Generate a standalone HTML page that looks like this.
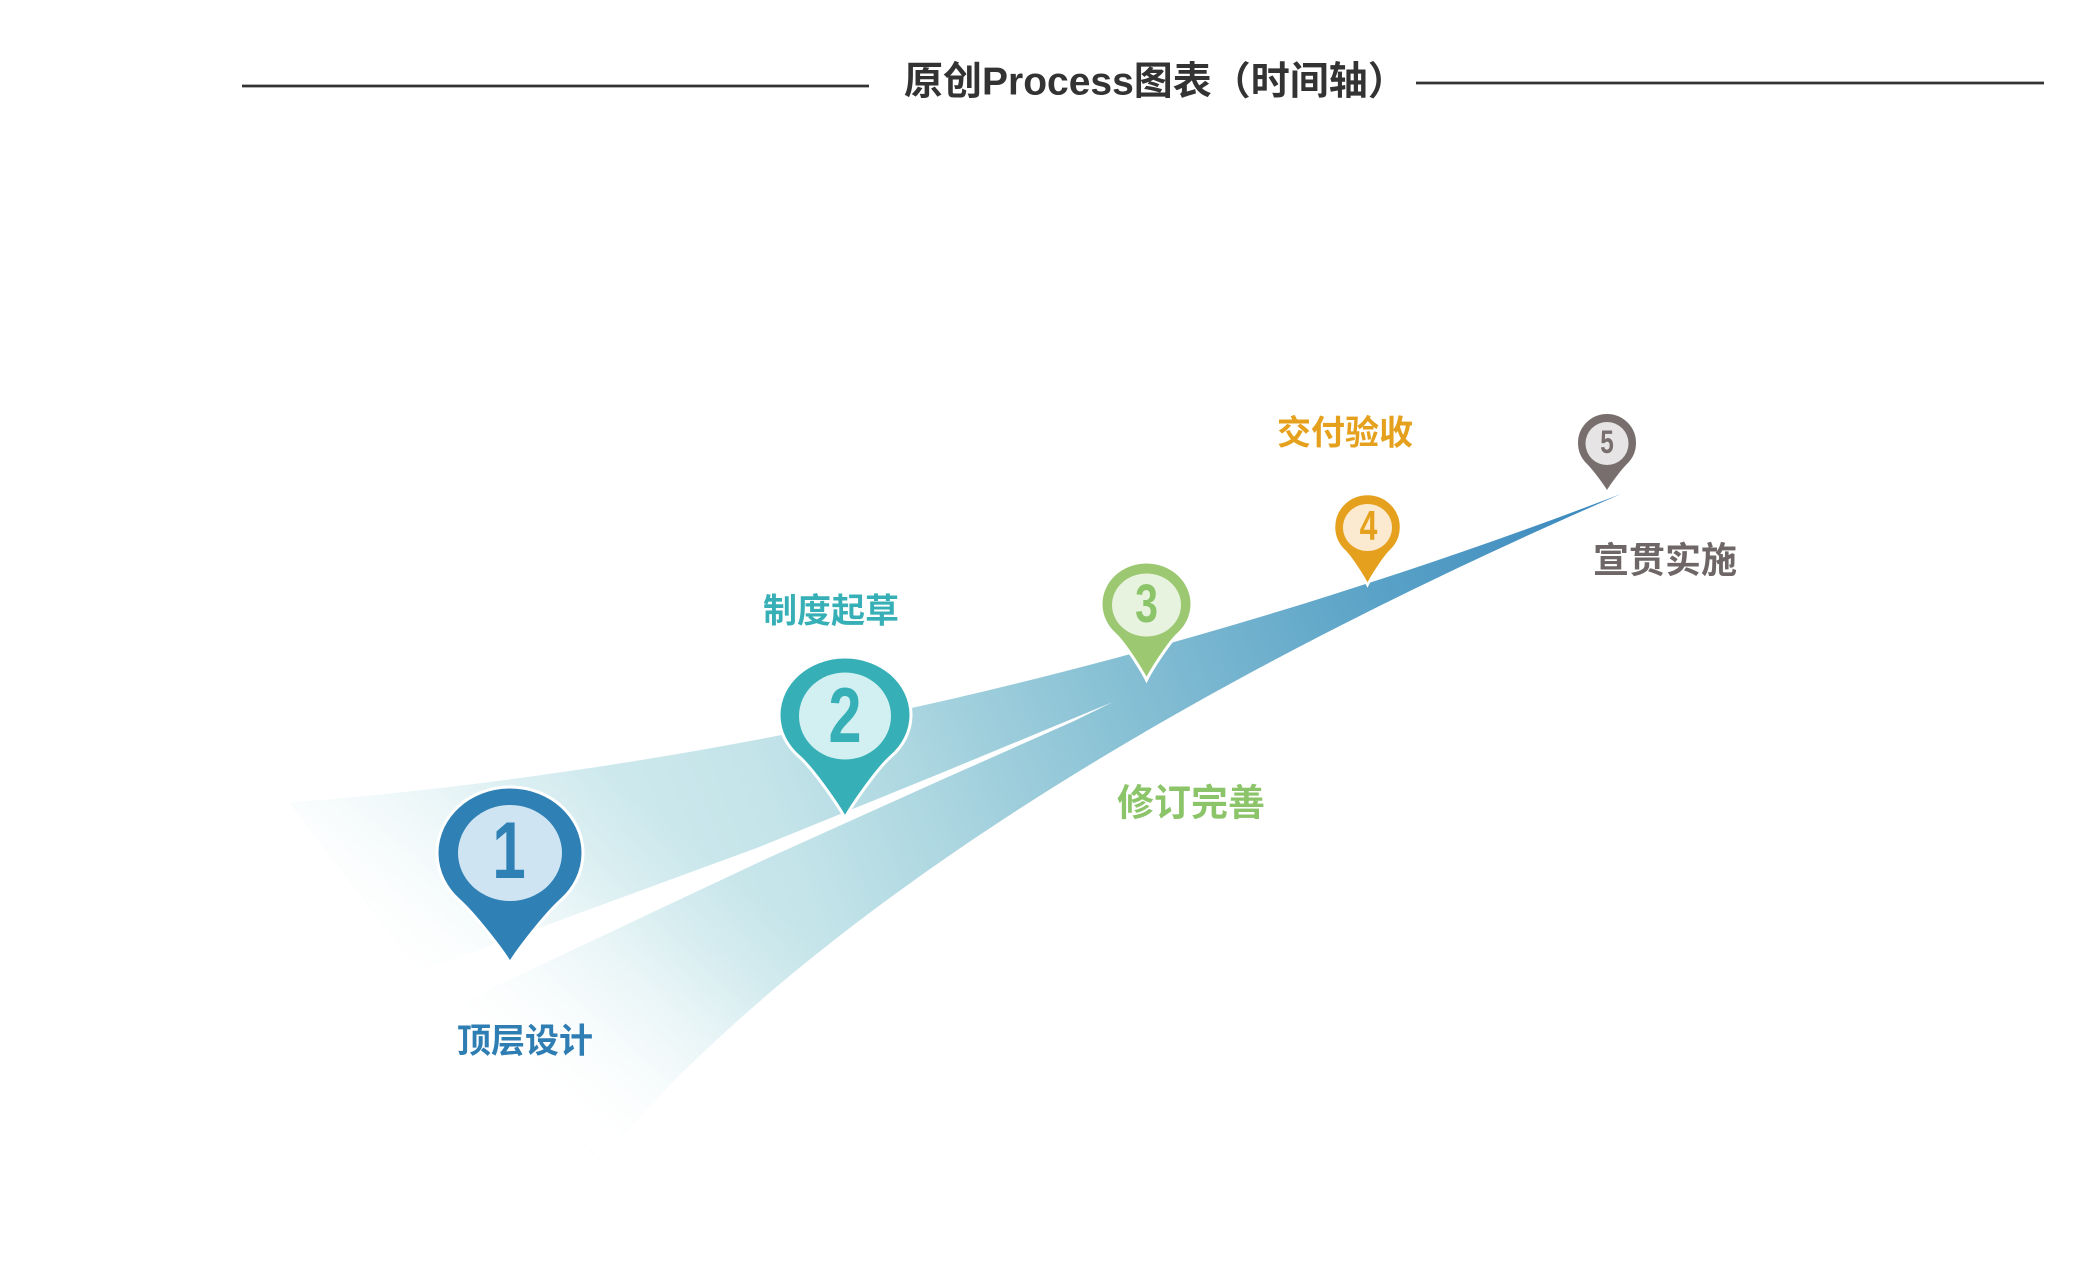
<!DOCTYPE html>
<html>
<head>
<meta charset="utf-8">
<style>
  html,body{margin:0;padding:0;background:#ffffff;}
  svg{display:block;}
  .cn{font-family:"Liberation Sans","Noto Sans CJK SC",sans-serif;font-weight:bold;}
  .dg{font-family:"Liberation Sans",sans-serif;font-weight:bold;}
</style>
</head>
<body>
<svg width="2081" height="1287" viewBox="0 0 2081 1287" xmlns="http://www.w3.org/2000/svg">
  <defs>
    <linearGradient id="base" gradientUnits="userSpaceOnUse" x1="450" y1="950" x2="1620" y2="490">
      <stop offset="0" stop-color="#d8eef1"/>
      <stop offset="0.13" stop-color="#d0eaee"/>
      <stop offset="0.28" stop-color="#c4e4e9"/>
      <stop offset="0.41" stop-color="#aad5e0"/>
      <stop offset="0.54" stop-color="#8dc4d6"/>
      <stop offset="0.79" stop-color="#5aa2c7"/>
      <stop offset="1" stop-color="#3786bd"/>
    </linearGradient>
    <linearGradient id="fade" gradientUnits="userSpaceOnUse" x1="400" y1="960" x2="579" y2="744">
      <stop offset="0" stop-color="#ffffff" stop-opacity="1"/>
      <stop offset="0.2" stop-color="#ffffff" stop-opacity="0.88"/>
      <stop offset="0.53" stop-color="#ffffff" stop-opacity="0.5"/>
      <stop offset="0.75" stop-color="#ffffff" stop-opacity="0.2"/>
      <stop offset="1" stop-color="#ffffff" stop-opacity="0"/>
    </linearGradient>
  </defs>

  <!-- title -->
  <line x1="242" y1="86" x2="869" y2="86" stroke="#333333" stroke-width="2.8"/>
  <line x1="1416" y1="83" x2="2044" y2="83" stroke="#333333" stroke-width="2.8"/>
  <text class="cn" x="904" y="94.5" font-size="39" fill="#333333">原创Process图表（时间轴）</text>

  <!-- ribbons -->
  <path d="M290 803 C750 765 1200 655 1621 494 C1100 720 780 950 600 1160 L453 1007 L420 971 Z" fill="url(#base)"/>
  <path d="M290 803 C750 765 1200 655 1621 494 C1100 720 780 950 600 1160 L453 1007 L420 971 Z" fill="url(#fade)"/>
  <path d="M1113 702 L1073 718.5 L940 773.5 L760 846.7 L547 925 L420 971 L453 1007 L547 962 L760 861.7 L940 780.5 L1073 721.5 Z" fill="#ffffff"/>

  <!-- pin 1 -->
  <path d="M510 963 C517.3 950.4 545.5 914 561.1 900.1 A73 66 0 1 0 458.9 900.1 C474.5 914 502.7 950.4 510 963 Z" fill="#2e80b5" stroke="#ffffff" stroke-width="3"/>
  <ellipse cx="510" cy="853" rx="52" ry="48" fill="#cfe4f2"/>
  <text class="dg" transform="translate(509,878) scale(0.74,1)" text-anchor="middle" font-size="81" fill="#2e80b5">1</text>

  <!-- pin 2 -->
  <path d="M845 818 C851.6 805.7 877.1 768.6 891.2 756.4 A66 58 0 1 0 798.8 756.4 C812.9 768.6 838.4 805.7 845 818 Z" fill="#36b0b6" stroke="#ffffff" stroke-width="3"/>
  <ellipse cx="845" cy="716" rx="46" ry="43.5" fill="#d2f0f2"/>
  <text class="dg" transform="translate(845,742) scale(0.76,1)" text-anchor="middle" font-size="78" fill="#36b0b6">2</text>

  <!-- pin 3 -->
  <path d="M1146.5 680 C1151.05 670.8 1168.6 642.8 1178.35 634 A45.5 42 0 1 0 1114.65 634 C1124.4 642.8 1141.95 670.8 1146.5 680 Z" fill="#9cc872" stroke="#ffffff" stroke-width="3"/>
  <ellipse cx="1146.5" cy="605" rx="34.5" ry="31.5" fill="#e8f3df"/>
  <text class="dg" transform="translate(1146.5,622) scale(0.76,1)" text-anchor="middle" font-size="54" fill="#8cc46a">3</text>

  <!-- pin 4 -->
  <path d="M1367.5 585 C1370.85 578.1 1383.77 557.49 1390.95 550.56 A33.5 33 0 1 0 1344.05 550.56 C1351.23 557.49 1364.15 578.1 1367.5 585 Z" fill="#e5a11e" stroke="#ffffff" stroke-width="2.5"/>
  <ellipse cx="1367.5" cy="527.5" rx="24.5" ry="23.5" fill="#fbeacf"/>
  <text class="dg" transform="translate(1368.5,540) scale(0.76,1)" text-anchor="middle" font-size="42" fill="#e5a11e">4</text>

  <!-- pin 5 -->
  <path d="M1607 492 C1610 486.5 1621.57 470.7 1628 464.4 A30 30 0 1 0 1586 464.4 C1592.43 470.7 1604 486.5 1607 492 Z" fill="#786e6e" stroke="#ffffff" stroke-width="2"/>
  <ellipse cx="1607" cy="443.5" rx="21.5" ry="21.5" fill="#e6e4e4"/>
  <text class="dg" transform="translate(1607,453) scale(0.76,1)" text-anchor="middle" font-size="32" fill="#786e6e">5</text>

  <!-- labels -->
  <text class="cn" x="525" y="1052.5" font-size="34" text-anchor="middle" fill="#2e7db3">顶层设计</text>
  <text class="cn" x="831" y="622.5" font-size="34" text-anchor="middle" fill="#36b0b6">制度起草</text>
  <text class="cn" x="1191" y="815.5" font-size="37" text-anchor="middle" fill="#8cc46a">修订完善</text>
  <text class="cn" x="1345" y="444.5" font-size="34" text-anchor="middle" fill="#e5a11e">交付验收</text>
  <text class="cn" x="1665" y="572.5" font-size="36" text-anchor="middle" fill="#6f6767">宣贯实施</text>
</svg>
</body>
</html>
